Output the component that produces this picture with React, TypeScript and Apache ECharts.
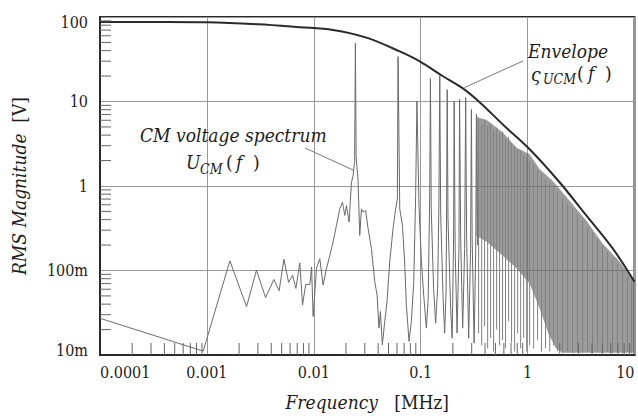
import React, { useEffect, useRef } from 'react';
import * as echarts from 'echarts';

const xTickLabels = ['0.0001', '0.001', '0.01', '0.1', '1', '10'];
const yTickLabels = ['10m', '100m', '1', '10', '100'];
const minorSteps = [2, 3, 4, 5, 6, 7, 8, 9];
const xDecades = [0.0001, 0.001, 0.01, 0.1, 1];
const yDecades = [0.01, 0.1, 1, 10];

// Envelope ς_UCM(f)
const envelopeFreq = [0.0001, 0.0003, 0.001, 0.003, 0.0074, 0.0151, 0.0311, 0.0637, 0.098, 0.1616, 0.248, 0.356, 0.6, 1.045, 1.99, 3.54, 6.27, 10];
const envelopeVal = [87.5, 87.3, 86.5, 82, 75.7, 70.3, 57, 39.1, 29.8, 19.9, 14.3, 9.8, 5.2, 2.72, 1.107, 0.448, 0.1815, 0.0736];

// CM voltage spectrum U_CM(f), low / mid frequency part
const spectrumLow: [number, number][] = [
  [0.0001, 0.0272], [0.000923, 0.0111], [0.00164, 0.13], [0.00235, 0.0374], [0.00291, 0.101],
  [0.00354, 0.0478], [0.00423, 0.0783], [0.00474, 0.0577], [0.00525, 0.136], [0.00581, 0.0723],
  [0.00633, 0.088], [0.0068, 0.0614], [0.0074, 0.123], [0.00784, 0.039], [0.0084, 0.0685],
  [0.0092, 0.0685], [0.00953, 0.11], [0.00986, 0.0285], [0.0106, 0.106],
];
const spectrumMid: [number, number][] = [
  [0.01138, 0.138], [0.01222, 0.0672], [0.01315, 0.106], [0.01413, 0.151], [0.01514, 0.218],
  [0.0163, 0.341], [0.0175, 0.536], [0.01854, 0.643], [0.0195, 0.448], [0.0202, 0.586],
  [0.0214, 0.374], [0.0225, 1.106], [0.0233, 1.32], [0.0241, 2.0], [0.0245, 49], [0.0249, 2.2],
  [0.0259, 1.21], [0.0269, 0.26], [0.0279, 0.536], [0.0289, 0.491], [0.0306, 0.512],
  [0.0322, 0.312], [0.0346, 0.182], [0.0372, 0.0736], [0.0391, 0.0512], [0.0407, 0.0208],
  [0.042, 0.0327], [0.0438, 0.0132], [0.0461, 0.0249], [0.0484, 0.0428], [0.0513, 0.126],
  [0.0551, 0.312], [0.0583, 0.536], [0.0605, 0.703], [0.0614, 34], [0.0637, 0.536],
  [0.0675, 0.341], [0.0708, 0.126], [0.0734, 0.039], [0.0778, 0.0145], [0.0818, 0.0249],
  [0.0861, 0.0736], [0.0897, 0.769], [0.0922, 10.1], [0.0964, 0.586], [0.1016, 0.126],
  [0.1067, 0.0512], [0.113, 0.0208], [0.1175, 0.0469], [0.1213, 0.703], [0.1233, 18.7],
  [0.1255, 0.536], [0.132, 0.0614], [0.138, 0.0238], [0.144, 0.0614], [0.148, 0.614],
  [0.1508, 20.2], [0.1538, 0.469], [0.162, 0.0469], [0.1675, 0.0182], [0.173, 0.0614],
  [0.177, 13.8], [0.18, 0.409], [0.1905, 0.0357], [0.197, 0.0158], [0.203, 0.238],
  [0.2056, 10], [0.21, 0.182], [0.219, 0.0182], [0.228, 0.182], [0.231, 10.6],
  [0.2366, 0.238], [0.247, 0.0208], [0.2576, 0.182], [0.2635, 11.1], [0.269, 0.238],
  [0.281, 0.0158], [0.293, 0.182], [0.298, 8.05], [0.303, 0.238], [0.316, 0.0138],
  [0.327, 0.182], [0.332, 7.03], [0.34, 0.2],
];

// Dense high-frequency band (filled region)
const bandTopFreq = [0.332, 0.356, 0.411, 0.587, 0.783, 1.045, 1.295, 1.713, 2.47, 3.54, 5.03, 7.24, 10];
const bandTopVal = [6.7, 6.4, 6.1, 4.3, 2.85, 2.38, 1.585, 1.154, 0.671, 0.391, 0.208, 0.128, 0.0736];
const bandBottomFreq = [0.332, 0.414, 0.583, 0.789, 1.045, 1.295, 1.57, 1.83, 2.12, 10];
const bandBottomVal = [0.258, 0.219, 0.15, 0.106, 0.0703, 0.0357, 0.0177, 0.0121, 0.0106, 0.0106];

// Individual harmonic lines inside / below the band
const denseFreq = [0.348, 0.372, 0.396, 0.423, 0.451, 0.481, 0.513, 0.547, 0.583, 0.622, 0.664, 0.708, 0.756, 0.807, 0.861, 0.918, 0.98, 1.045, 1.14, 1.24, 1.35, 1.47, 1.61, 1.75, 1.91, 2.12, 2.37, 2.63, 2.93, 3.27, 3.64, 4.05, 4.51, 5.02, 5.6, 6.23, 6.93, 7.72, 8.6, 9.38];
const denseTop = [6.2, 5.4, 6.0, 5.1, 5.5, 4.6, 4.9, 4.2, 4.4, 3.6, 3.8, 3.2, 3.0, 2.7, 2.6, 2.3, 2.2, 2.0, 1.8, 1.55, 1.4, 1.2, 1.1, 0.95, 0.85, 0.72, 0.62, 0.55, 0.46, 0.4, 0.33, 0.28, 0.24, 0.2, 0.165, 0.14, 0.12, 0.1, 0.085, 0.075];
const denseBottom = [0.018, 0.013, 0.022, 0.012, 0.016, 0.011, 0.02, 0.013, 0.015, 0.012, 0.025, 0.014, 0.011, 0.018, 0.012, 0.016, 0.011, 0.013, 0.012, 0.015, 0.011, 0.012, 0.011, 0.013, 0.011, 0.0105, 0.011, 0.0105, 0.011, 0.0105, 0.011, 0.0105, 0.011, 0.0105, 0.011, 0.0105, 0.011, 0.0105, 0.011, 0.0105];

const FONT = 'DejaVu Serif Condensed';
const TXT = '#1c1c1c';

export default function App() {
  const ref = useRef<HTMLDivElement>(null);
  useEffect(() => {
    if (!ref.current) return;
    const chart = echarts.init(ref.current, undefined, { renderer: 'svg' });
    const xMinor = xDecades.flatMap((d) => minorSteps.map((s) => [d * s, 0.01]));
    const yMinor = yDecades.flatMap((d) => minorSteps.map((s) => [0.0001, d * s]));

    const txt = (x: number, y: number, text: string, size: number, italic: boolean) => ({
      type: 'text', x, y, z: 10, silent: true,
      style: { text, fontFamily: FONT, fontSize: size, fontStyle: italic ? 'italic' : 'normal', fill: TXT, textAlign: 'left', textVerticalAlign: 'middle' },
    });

    const option: any = {
      animation: false,
      backgroundColor: '#ffffff',
      grid: { left: 100, right: 3.5, top: 17, bottom: 59, show: true, borderColor: '#2a2a2a', borderWidth: 2, backgroundColor: 'transparent' },
      xAxis: {
        type: 'log', logBase: 10, min: 0.0001, max: 10,
        axisLine: { show: true, lineStyle: { color: '#2a2a2a', width: 2 } },
        axisTick: { show: false },
        splitLine: { show: true, lineStyle: { color: '#9a9a9a', width: 1 } },
        axisLabel: {
          fontFamily: FONT, fontSize: 16, color: TXT, margin: 9,
          alignMinLabel: 'left', alignMaxLabel: 'right',
          formatter: (v: number) => xTickLabels[Math.round(Math.log10(v)) + 4] ?? '',
        },
        name: '{i|Frequency}   [MHz]',
        nameLocation: 'middle', nameGap: 37,
        nameTextStyle: {
          fontFamily: FONT, fontSize: 19, color: TXT,
          rich: { i: { fontFamily: FONT, fontSize: 19, fontStyle: 'italic', color: TXT } },
        },
      },
      yAxis: {
        type: 'log', logBase: 10, min: 0.01, max: 100,
        axisLine: { show: true, lineStyle: { color: '#2a2a2a', width: 2 } },
        axisTick: { show: false },
        splitLine: { show: true, lineStyle: { color: '#9a9a9a', width: 1 } },
        axisLabel: {
          fontFamily: FONT, fontSize: 16, color: TXT, margin: 12,
          formatter: (v: number) => {
            const i = Math.round(Math.log10(v)) + 2;
            const t = yTickLabels[i] ?? '';
            if (i === 4) return '{top|' + t + '}';
            if (i === 0) return '{bot|' + t + '}';
            return t;
          },
          rich: {
            top: { fontFamily: FONT, fontSize: 16, color: TXT, padding: [11, 0, 0, 0] },
            bot: { fontFamily: FONT, fontSize: 16, color: TXT, padding: [0, 0, 9, 0] },
          },
        },
        name: '{i|RMS Magnitude}  [V]',
        nameLocation: 'middle', nameGap: 72, nameRotate: 90,
        nameTextStyle: {
          fontFamily: FONT, fontSize: 19, color: TXT,
          rich: { i: { fontFamily: FONT, fontSize: 19, fontStyle: 'italic', color: TXT } },
        },
      },
      series: [
        {
          type: 'custom', name: 'band', silent: true, z: 2,
          data: [[bandTopFreq[0], bandTopVal[0]]],
          renderItem: (_p: any, api: any) => {
            const pts: number[][] = [];
            bandTopFreq.forEach((fr, i) => pts.push(api.coord([fr, bandTopVal[i]])));
            for (let i = bandBottomFreq.length - 1; i >= 0; i--) pts.push(api.coord([bandBottomFreq[i], bandBottomVal[i]]));
            return { type: 'polygon', shape: { points: pts }, style: { fill: 'rgba(95,95,95,0.62)', stroke: 'none' } };
          },
        },
        {
          type: 'custom', name: 'dense', silent: true, z: 3,
          data: denseFreq.map((fr, i) => [fr, denseTop[i], denseBottom[i]]),
          renderItem: (_p: any, api: any) => {
            const a = api.coord([api.value(0), api.value(1)]);
            const b = api.coord([api.value(0), api.value(2)]);
            return { type: 'line', shape: { x1: a[0], y1: a[1], x2: b[0], y2: b[1] }, style: { stroke: '#808080', lineWidth: 1 } };
          },
        },
        {
          type: 'line', name: 'spectrum', z: 4, symbol: 'none', silent: true,
          data: [...spectrumLow, ...spectrumMid],
          lineStyle: { color: '#6a6a6a', width: 1 },
        },
        {
          type: 'line', name: 'envelope', z: 5, symbol: 'none', silent: true, smooth: 0.35,
          data: envelopeFreq.map((fr, i) => [fr, envelopeVal[i]]),
          lineStyle: { color: '#2a2a2a', width: 2 },
        },
        {
          type: 'custom', name: 'xminor', silent: true, z: 6,
          data: xMinor,
          renderItem: (_p: any, api: any) => {
            const p = api.coord([api.value(0), api.value(1)]);
            return { type: 'line', shape: { x1: p[0], y1: p[1], x2: p[0], y2: p[1] - 12 }, style: { stroke: '#666', lineWidth: 1 } };
          },
        },
        {
          type: 'custom', name: 'yminor', silent: true, z: 6,
          data: yMinor,
          renderItem: (_p: any, api: any) => {
            const p = api.coord([api.value(0), api.value(1)]);
            return { type: 'line', shape: { x1: p[0], y1: p[1], x2: p[0] + 11, y2: p[1] }, style: { stroke: '#666', lineWidth: 1 } };
          },
        },
      ],
      graphic: [
        { type: 'line', silent: true, shape: { x1: 305, y1: 148, x2: 353, y2: 170 }, style: { stroke: '#777', lineWidth: 1 }, z: 10 },
        { type: 'line', silent: true, shape: { x1: 523, y1: 61, x2: 464.5, y2: 87.5 }, style: { stroke: '#777', lineWidth: 1 }, z: 10 },
        txt(140, 134.7, 'CM voltage spectrum', 19, true),
        txt(186, 162, 'U', 19, true),
        txt(200, 168.5, 'CM', 14, true),
        txt(226, 162, '(', 19, false),
        txt(236, 162, 'f', 19, true),
        txt(253, 162, ')', 19, false),
        txt(528, 50.6, 'Envelope', 19, true),
        txt(531, 74, 'ς', 19, true),
        txt(543, 79, 'UCM', 14, true),
        txt(577, 73, '(', 19, false),
        txt(588, 73, 'f', 19, true),
        txt(605, 73, ')', 19, false),
      ],
    };
    chart.setOption(option);
    return () => chart.dispose();
  }, []);
  return <div ref={ref} style={{ position: 'fixed', left: 0, top: 0, width: 638, height: 416, background: '#fff' }} />;
}
